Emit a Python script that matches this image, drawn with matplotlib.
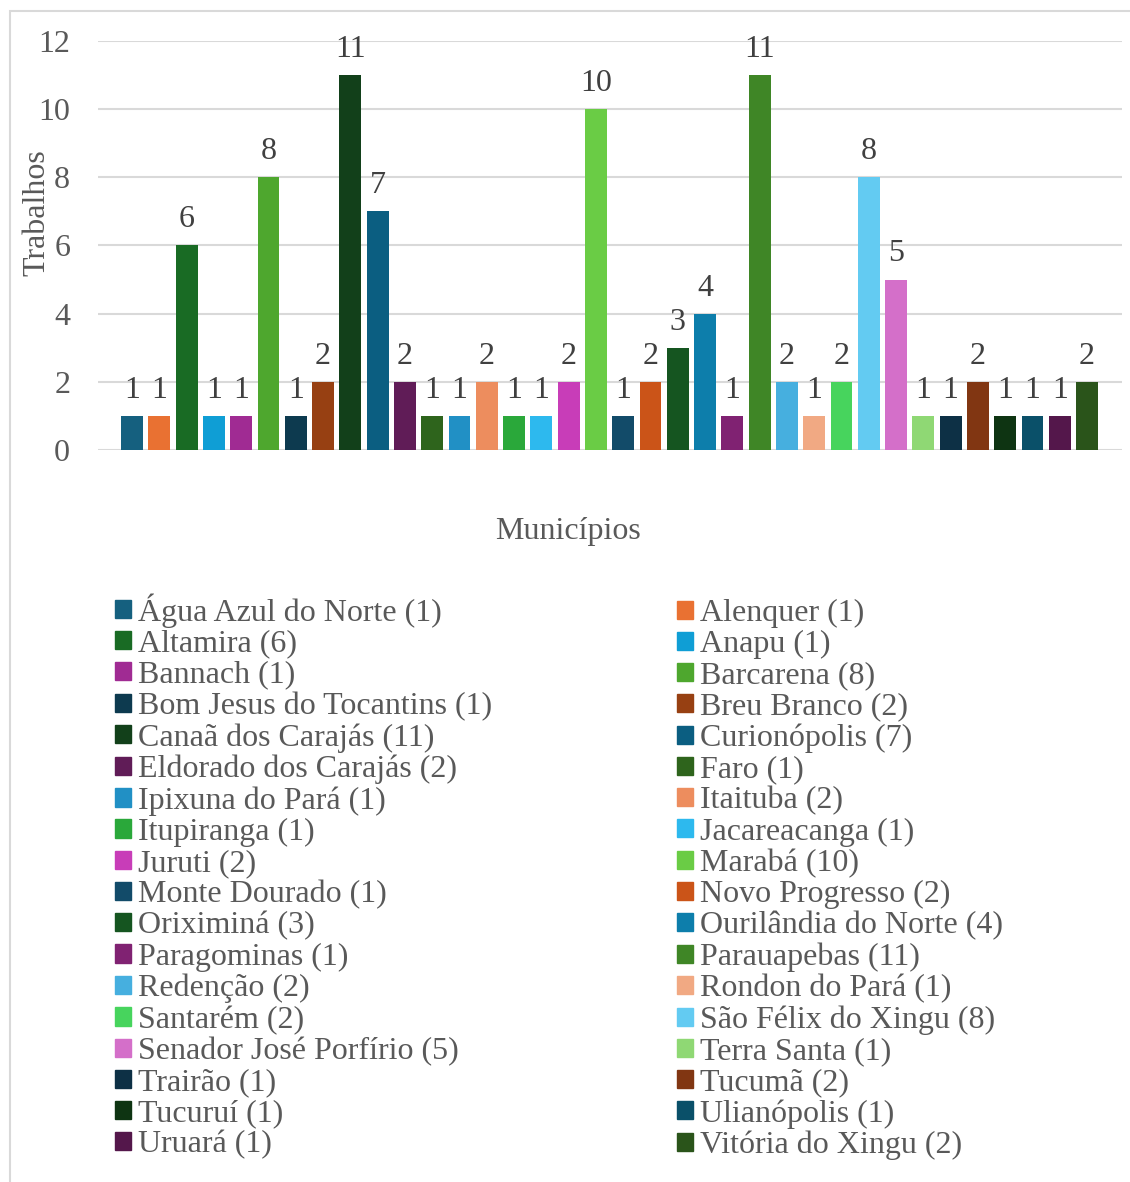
import matplotlib.pyplot as plt
import matplotlib.patches as mpatches
import numpy as np

plt.rcParams['font.family'] = ['Liberation Serif', 'DejaVu Serif']

municipios = ['Água Azul do Norte', 'Alenquer', 'Altamira', 'Anapu', 'Bannach',
              'Barcarena', 'Bom Jesus do Tocantins', 'Breu Branco', 'Canaã dos Carajás',
              'Curionópolis', 'Eldorado dos Carajás', 'Faro', 'Ipixuna do Pará',
              'Itaituba', 'Itupiranga', 'Jacareacanga', 'Juruti', 'Marabá',
              'Monte Dourado', 'Novo Progresso', 'Oriximiná', 'Ourilândia do Norte',
              'Paragominas', 'Parauapebas', 'Redenção', 'Rondon do Pará', 'Santarém',
              'São Félix do Xingu', 'Senador José Porfírio', 'Terra Santa', 'Trairão',
              'Tucumã', 'Tucuruí', 'Ulianópolis', 'Uruará', 'Vitória do Xingu']
trabalhos = [1, 1, 6, 1, 1, 8, 1, 2, 11, 7, 2, 1, 1, 2, 1, 1, 2, 10,
             1, 2, 3, 4, 1, 11, 2, 1, 2, 8, 5, 1, 1, 2, 1, 1, 1, 2]
cores = ['#15607F', '#E97132', '#196B24', '#0F9ED5', '#A02B93', '#4EA72E',
         '#0D3A4F', '#974012', '#12401A', '#0B5E81', '#601C57', '#2E641C',
         '#2190C5', '#ED8D5E', '#2AA83A', '#2DB9EE', '#C83DB8', '#6ACC45',
         '#124B69', '#CB5418', '#155520', '#0D7EAB', '#802272', '#3F8626',
         '#46AFDF', '#F1A983', '#47D45D', '#63CBF2', '#D46FC9', '#8FD874',
         '#0D3045', '#813612', '#0E3412', '#0A5069', '#54174B', '#2A541A']
yticks = [0, 2, 4, 6, 8, 10, 12]

cinza = '#595959'
fs = 23

fig = plt.figure(figsize=[11.3, 11.82], dpi=100)
ax = fig.add_axes([98/1130, 1-450/1182, 1024/1130, 409/1182])

x = np.arange(len(municipios))
bars = ax.bar(x, trabalhos, width=0.8, color=cores, zorder=3)
ax.bar_label(bars, padding=8, fontsize=fs, color='#404040')

ax.set_xlim(-1.25, len(municipios) - 1 + 1.28)
ax.set_ylim(0, 12)
ax.set_yticks(yticks)
ax.set_xticks([])
ax.tick_params(axis='y', length=0, pad=20, labelsize=fs, labelcolor=cinza)
ax.grid(axis='y', color='#D9D9D9', lw=1.5, zorder=0)
for s in ax.spines.values():
    s.set_visible(False)

ax.set_ylabel('Trabalhos', fontsize=fs, color=cinza)
ax.yaxis.set_label_coords(-0.045, 0.58)
ax.text(0.459, -0.20, 'Municípios', transform=ax.transAxes, fontsize=fs,
        color=cinza, ha='center', va='center')

handles = [mpatches.Patch(color=c) for c in cores]
labels = ['%s (%d)' % (m, t) for m, t in zip(municipios, trabalhos)]

leg_kw = dict(loc='upper left', frameon=False, fontsize=fs, labelcolor=cinza,
              handlelength=0.5, handleheight=0.5, handletextpad=0.22,
              labelspacing=0.065, borderpad=0, borderaxespad=0,
              bbox_transform=fig.transFigure)
leg1 = fig.legend(handles[0::2], labels[0::2], bbox_to_anchor=(115/1130, 1-593/1182), **leg_kw)
leg2 = fig.legend(handles[1::2], labels[1::2], bbox_to_anchor=(677/1130, 1-599/1182), **leg_kw)

# moldura do gráfico
fig.patches.append(mpatches.Rectangle((10/1130, -0.05), 1.2, 1.05 - 11/1182,
                                      transform=fig.transFigure, fill=False,
                                      edgecolor='#D9D9D9', lw=1.5))

fig.savefig('out.png', dpi=100)
